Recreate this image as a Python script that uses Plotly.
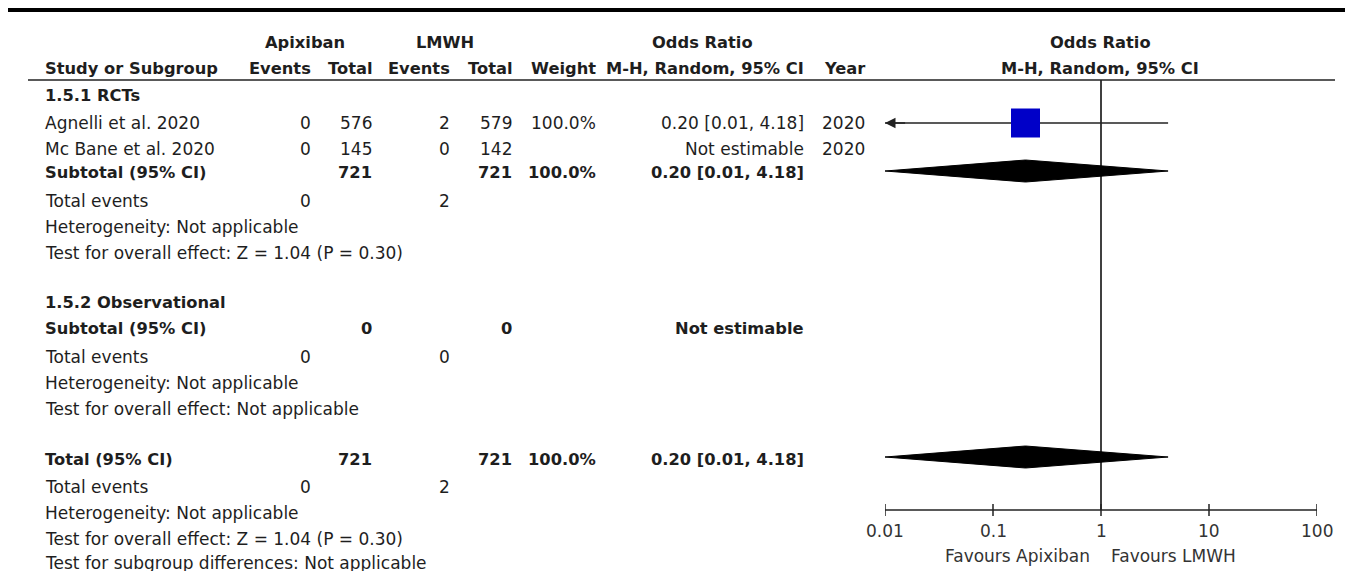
import math
import plotly.graph_objects as go

# reference canvas is 1353x571; the page body has an 8px margin, so the
# figure is 8px smaller and the axes are offset to keep reference pixels.
REF_W, REF_H = 1353, 571
OFF = 8
W, H = REF_W - OFF, REF_H - OFF

# ---------------- data ----------------
studies = ["Agnelli et al. 2020", "Mc Bane et al. 2020"]
apx_events = [0, 0]
apx_total = [576, 145]
lmwh_events = [2, 0]
lmwh_total = [579, 142]
weights = ["100.0%", ""]
or_labels = ["0.20 [0.01, 4.18]", "Not estimable"]
years = ["2020", "2020"]
study_or = [0.20, None]
study_lo = [0.01, None]
study_hi = [4.18, None]

sub1_apx_total, sub1_lmwh_total = 721, 721
sub1_weight = "100.0%"
sub1_label = "0.20 [0.01, 4.18]"
sub1_or, sub1_lo, sub1_hi = 0.20, 0.01, 4.18
sub1_apx_events, sub1_lmwh_events = 0, 2

sub2_apx_total, sub2_lmwh_total = 0, 0
sub2_label = "Not estimable"
sub2_apx_events, sub2_lmwh_events = 0, 0

tot_apx_total, tot_lmwh_total = 721, 721
tot_weight = "100.0%"
tot_label = "0.20 [0.01, 4.18]"
tot_or, tot_lo, tot_hi = 0.20, 0.01, 4.18
tot_apx_events, tot_lmwh_events = 0, 2

axis_ticks = [0.01, 0.1, 1, 10, 100]
axis_ticktext = ["0.01", "0.1", "1", "10", "100"]

# ---------------- style ----------------
FONT = "DejaVu Sans"
FS = 17
FSB = 16.3
TXT = "#1e1e1e"

fig = go.Figure()
ann = []


def px(x):
    return (x - OFF) / W


def txt(x, y, s, anchor="left", bold=False, size=None, color=TXT):
    ann.append(dict(
        x=px(x), xref="paper", y=y, yref="y",
        text=f"<b>{s}</b>" if bold else s,
        xanchor=anchor, yanchor="middle", showarrow=False,
        font=dict(family=FONT, size=size or (FSB if bold else FS), color=color),
    ))


# column positions (right edges)
X_LEFT = 43
X_AE, X_AT, X_LE, X_LT, X_W, X_OR, X_Y = 313, 374, 452, 514, 598, 806, 867

# headers
txt(305, 42, "Apixiban", "center", True)
txt(445, 42, "LMWH", "center", True)
txt(702, 42, "Odds Ratio", "center", True)
txt(1100, 42, "Odds Ratio", "center", True)
txt(X_LEFT, 68, "Study or Subgroup", "left", True)
txt(X_AE, 68, "Events", "right", True)
txt(X_AT, 68, "Total", "right", True)
txt(X_LE, 68, "Events", "right", True)
txt(X_LT, 68, "Total", "right", True)
txt(X_W, 68, "Weight", "right", True)
txt(X_OR, 68, "M-H, Random, 95% CI", "right", True)
txt(X_Y, 68, "Year", "right", True)
txt(1100, 68, "M-H, Random, 95% CI", "center", True)

# subgroup 1
txt(X_LEFT, 95, "1.5.1 RCTs", "left", True)
study_y = [123, 149]
for i, name in enumerate(studies):
    y = study_y[i]
    txt(X_LEFT, y, name)
    txt(X_AE, y, str(apx_events[i]), "right")
    txt(X_AT, y, str(apx_total[i]), "right")
    txt(X_LE, y, str(lmwh_events[i]), "right")
    txt(X_LT, y, str(lmwh_total[i]), "right")
    if weights[i]:
        txt(X_W, y, weights[i], "right")
    txt(X_OR, y, or_labels[i], "right")
    txt(X_Y, y, years[i], "right")

txt(X_LEFT, 172, "Subtotal (95% CI)", "left", True)
txt(X_AT, 172, str(sub1_apx_total), "right", True)
txt(X_LT, 172, str(sub1_lmwh_total), "right", True)
txt(X_W, 172, sub1_weight, "right", True)
txt(X_OR, 172, sub1_label, "right", True)
txt(X_LEFT, 201, "Total events")
txt(X_AE, 201, str(sub1_apx_events), "right")
txt(X_LE, 201, str(sub1_lmwh_events), "right")
txt(X_LEFT, 227, "Heterogeneity: Not applicable")
txt(X_LEFT, 253, "Test for overall effect: Z = 1.04 (P = 0.30)")

# subgroup 2
txt(X_LEFT, 302, "1.5.2 Observational", "left", True)
txt(X_LEFT, 328, "Subtotal (95% CI)", "left", True)
txt(X_AT, 328, str(sub2_apx_total), "right", True)
txt(X_LT, 328, str(sub2_lmwh_total), "right", True)
txt(X_OR, 328, sub2_label, "right", True)
txt(X_LEFT, 357, "Total events")
txt(X_AE, 357, str(sub2_apx_events), "right")
txt(X_LE, 357, str(sub2_lmwh_events), "right")
txt(X_LEFT, 383, "Heterogeneity: Not applicable")
txt(X_LEFT, 409, "Test for overall effect: Not applicable")

# total
txt(X_LEFT, 459, "Total (95% CI)", "left", True)
txt(X_AT, 459, str(tot_apx_total), "right", True)
txt(X_LT, 459, str(tot_lmwh_total), "right", True)
txt(X_W, 459, tot_weight, "right", True)
txt(X_OR, 459, tot_label, "right", True)
txt(X_LEFT, 487, "Total events")
txt(X_AE, 487, str(tot_apx_events), "right")
txt(X_LE, 487, str(tot_lmwh_events), "right")
txt(X_LEFT, 513, "Heterogeneity: Not applicable")
txt(X_LEFT, 539, "Test for overall effect: Z = 1.04 (P = 0.30)")
txt(X_LEFT, 563, "Test for subgroup differences: Not applicable")

# ---------------- plot marks ----------------
AX_MIN, AX_MAX = axis_ticks[0], axis_ticks[-1]
AXIS_Y = 510

# line of no effect
fig.add_trace(go.Scatter(x=[1, 1], y=[80, AXIS_Y], mode="lines",
                         line=dict(color="black", width=1.5), hoverinfo="skip"))

# study CIs and squares
for i in range(len(studies)):
    if study_or[i] is None:
        continue
    y = study_y[i]
    lo = max(study_lo[i], AX_MIN)
    hi = min(study_hi[i], AX_MAX)
    fig.add_trace(go.Scatter(x=[lo, hi], y=[y, y], mode="lines",
                             line=dict(color="#222", width=1.5), hoverinfo="skip"))
    if study_lo[i] <= AX_MIN:
        # arrow indicating the interval extends past the axis minimum
        ann.append(dict(x=math.log10(AX_MIN), y=y, xref="x", yref="y",
                        ax=math.log10(AX_MIN) + 0.2, ay=y, axref="x", ayref="y",
                        showarrow=True, arrowhead=2, arrowsize=1.4, arrowwidth=1.5,
                        arrowcolor="#222", text=""))
    fig.add_trace(go.Scatter(x=[study_or[i]], y=[y], mode="markers",
                             marker=dict(symbol="square", size=29, color="#0000C8",
                                         line=dict(width=0)),
                             hoverinfo="skip"))

# diamonds
for (o, lo, hi, y) in [(sub1_or, sub1_lo, sub1_hi, 171), (tot_or, tot_lo, tot_hi, 457)]:
    fig.add_trace(go.Scatter(x=[lo, o, hi, o, lo], y=[y, y - 11, y, y + 11, y],
                             mode="lines", fill="toself", fillcolor="black",
                             line=dict(color="black", width=1), hoverinfo="skip"))

# axis line + ticks
fig.add_trace(go.Scatter(x=[AX_MIN, AX_MAX], y=[AXIS_Y, AXIS_Y], mode="lines",
                         line=dict(color="#222", width=1.5), hoverinfo="skip"))
tx, ty = [], []
for v in axis_ticks:
    tx += [v, v, None]
    ty += [AXIS_Y - 6, AXIS_Y + 6, None]
fig.add_trace(go.Scatter(x=tx, y=ty, mode="lines",
                         line=dict(color="#222", width=1.5), hoverinfo="skip"))
for v, t in zip(axis_ticks, axis_ticktext):
    ann.append(dict(x=math.log10(v), xref="x", y=531, yref="y", text=t,
                    showarrow=False, xanchor="center", yanchor="middle",
                    font=dict(family=FONT, size=FS, color="#333")))
ann.append(dict(x=0, xref="x", xshift=-9, y=556, yref="y", text="Favours Apixiban",
                showarrow=False, xanchor="right", yanchor="middle",
                font=dict(family=FONT, size=FS, color="#333")))
ann.append(dict(x=0, xref="x", xshift=8, y=556, yref="y", text="Favours LMWH",
                showarrow=False, xanchor="left", yanchor="middle",
                font=dict(family=FONT, size=FS, color="#333")))

shapes = [
    dict(type="line", xref="paper", yref="y", x0=px(8), x1=1, y0=10, y1=10,
         line=dict(color="black", width=4)),
    dict(type="line", xref="paper", yref="y", x0=px(28), x1=px(1335), y0=80, y1=80,
         line=dict(color="#222", width=1.5)),
]

fig.update_layout(
    width=W, height=H,
    margin=dict(l=0, r=0, t=0, b=0),
    paper_bgcolor="white", plot_bgcolor="white",
    showlegend=False,
    xaxis=dict(type="log", range=[-2, 2], domain=[px(885), px(1317)], visible=False,
               fixedrange=True),
    yaxis=dict(range=[REF_H, OFF], domain=[0, 1], visible=False, fixedrange=True),
    annotations=ann,
    shapes=shapes,
)

fig.write_html("out.html")
